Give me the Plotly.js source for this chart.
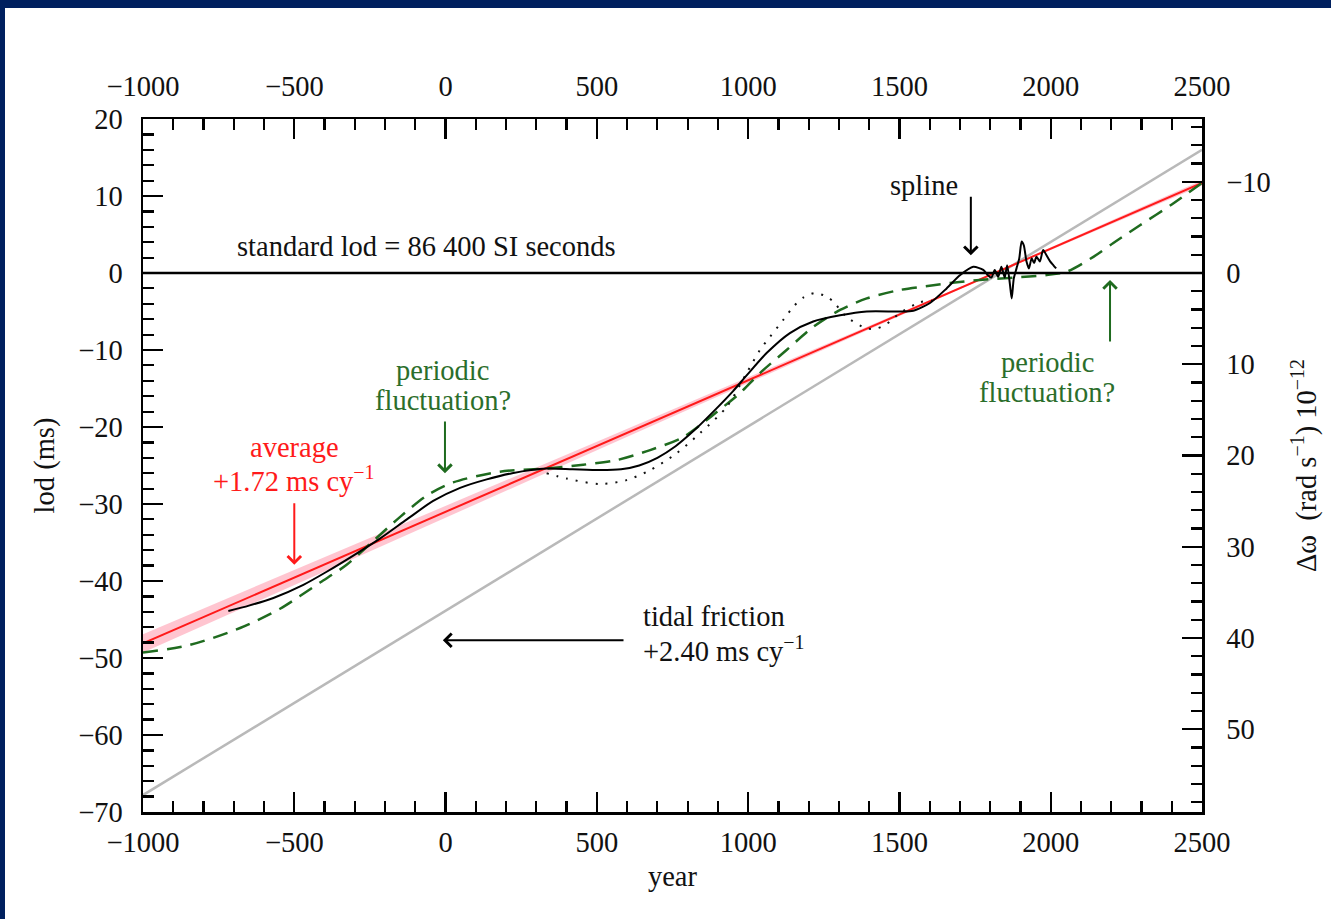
<!DOCTYPE html>
<html><head><meta charset="utf-8">
<script src="https://cdn.plot.ly/plotly-3.0.1.min.js"></script>
<style>
html,body{margin:0;padding:0;background:#00205f;overflow:hidden;width:1331px;height:919px;}
#chart{position:absolute;left:5px;top:8px;width:1326px;height:911px;background:#fff;}
</style>
</head><body><div id="chart"></div>
<script>
// ---- data ----
const splineYears = [-718,-650,-569,-470,-393,-305,-217,-128,-41,48,136,220,334,420,510,580,640,700,760,820,885,951,995,1061,1138,1215,1304,1392,1502,1546,1601,1656,1700,1744,1777,1793,1804,1815,1826,1837,1848,1856,1865,1871,1878,1887,1896,1904,1911,1920,1928,1937,1945,1953,1964,1975,1986,1998,2009,2018];
const splineLod   = [-43.9,-43.2,-42.2,-40.5,-38.8,-36.7,-34.5,-32.0,-29.6,-27.9,-26.8,-26.0,-25.4,-25.5,-25.6,-25.5,-25.0,-24.0,-22.5,-20.5,-18.0,-15.3,-13.3,-10.4,-7.8,-6.3,-5.5,-5.0,-5.0,-4.9,-3.9,-2.0,-0.3,0.8,0.4,-0.3,-0.6,0.4,-0.5,0.8,-0.6,1.0,-1.4,-3.3,-0.7,0.6,1.9,4.1,3.6,1.5,0.6,1.9,1.3,2.1,1.5,3.0,2.3,1.5,1.0,0.6];

const dottedYears = [334,400,510,598,676,764,841,929,995,1039,1072,1116,1149,1182,1221,1260,1281,1325,1392,1425,1458,1502,1568,1610];
const dottedLod   = [-26.0,-26.7,-27.4,-26.9,-25.6,-23.4,-20.8,-17.4,-13.0,-10.0,-8.3,-6.1,-4.4,-3.2,-2.6,-3.1,-3.7,-5.7,-7.2,-7.2,-6.6,-5.2,-3.8,-3.6];

const periodicYears = [-1000,-845,-679,-547,-415,-327,-239,-151,-62,25,180,334,455,565,676,786,885,973,1039,1127,1215,1304,1392,1502,1612,1667,1766,1876,1987,2053,2141,2207,2295,2400,2500];
const periodicLod   = [-49.3,-48.3,-46.1,-43.6,-40.2,-37.9,-34.8,-31.7,-28.9,-27.2,-25.8,-25.4,-24.9,-24.3,-23.0,-21.3,-18.4,-15.6,-13.0,-10.0,-7.0,-4.8,-3.3,-2.2,-1.6,-1.3,-0.9,-0.6,-0.26,0.17,2.1,3.9,6.2,8.9,11.7];

const averageYears = [-1000, 2500];
const averageLod   = [-48.1, 11.7];
const bandYears    = [-1000, 500, 1800, 2500];
const bandHalfWidth= [1.2, 0.55, 0.1, 0.35];

const tidalYears = [-1000, 2500];
const tidalLod   = [-67.8, 16.0];

const standardYears = [-1000, 2500];
const standardLod   = [0, 0];

const xTicks = [-1000,-500,0,500,1000,1500,2000,2500];
const yTicks = [-70,-60,-50,-40,-30,-20,-10,0,10,20];
const omegaTicks = [-10,0,10,20,30,40,50];
const msToOmega = 0.8439; // 10^-12 rad/s per ms of lod

// ---- helpers ----
function lerp(xs, ys, x){
  for(let i=0;i<xs.length-1;i++){
    if(x>=xs[i] && x<=xs[i+1]){
      const t=(x-xs[i])/(xs[i+1]-xs[i]); return ys[i]+t*(ys[i+1]-ys[i]);
    }
  }
  return ys[ys.length-1];
}
const bandUpper = bandYears.map((y,i)=>lerp(averageYears,averageLod,y)+bandHalfWidth[i]);
const bandLower = bandYears.map((y,i)=>lerp(averageYears,averageLod,y)-bandHalfWidth[i]);
const fmt = v => v<0 ? '\u2212'+(-v) : String(v);

const FONT = 'Liberation Serif, Times New Roman, serif';
const FS = 28.5;
const GREEN = '#1f6b1f';
const GREENTXT = '#2b6e2b';
const RED = '#ff1a1a';

const traces = [
  {x:bandYears, y:bandLower, mode:'lines', line:{width:0, color:'rgba(0,0,0,0)'}, hoverinfo:'skip', showlegend:false},
  {x:bandYears, y:bandUpper, mode:'lines', fill:'tonexty', fillcolor:'rgba(255,150,170,0.55)', line:{width:0, color:'rgba(0,0,0,0)'}, hoverinfo:'skip', showlegend:false},
  {x:tidalYears, y:tidalLod, mode:'lines', line:{color:'#b9b9b9', width:2.5}, showlegend:false},
  {x:averageYears, y:averageLod, mode:'lines', line:{color:RED, width:2}, showlegend:false},
  {x:periodicYears, y:periodicLod, mode:'lines', line:{color:GREEN, width:2.5, dash:'15px,9px', shape:'spline', smoothing:0.8}, showlegend:false},
  {x:dottedYears, y:dottedLod, mode:'lines', line:{color:'#111', width:2, dash:'2px,8px', shape:'spline', smoothing:0.8}, showlegend:false},
  {x:splineYears, y:splineLod, mode:'lines', line:{color:'#000', width:2, shape:'spline', smoothing:0.7}, showlegend:false},
  {x:standardYears, y:standardLod.map(v=>-v*msToOmega), xaxis:'x2', yaxis:'y2', mode:'lines', line:{color:'#000', width:2.5}, showlegend:false}
];

const tickFont = {family:FONT, size:FS, color:'#111'};
const axisCommon = {
  showline:true, linecolor:'#000', linewidth:2.5, ticks:'inside', tickcolor:'#000',
  ticklen:20, tickwidth:2.2, showgrid:false, zeroline:false, tickfont:tickFont
};
function minorTicks(dt){ return {ticks:'inside', dtick:dt, ticklen:11, tickwidth:2.2, tickcolor:'#000', showgrid:false}; }

function arrow(x, y, ax, ay, color){
  return {x:x, y:y, ax:ax, ay:ay, xref:'x', yref:'y', axref:'x', ayref:'y', text:'', showarrow:true,
    arrowhead:4, arrowsize:1.3, arrowwidth:2, arrowcolor:color, standoff:0, startstandoff:0};
}
function label(x, y, text, color, xanchor){
  return {x:x, y:y, xref:'x', yref:'y', text:text, showarrow:false, xanchor:xanchor||'center', yanchor:'middle',
    font:{family:FONT, size:FS, color:color}};
}

const layout = {
  width:1326, height:911,
  margin:{l:138, r:129, t:111, b:107},
  paper_bgcolor:'#fff', plot_bgcolor:'#fff',
  showlegend:false,
  xaxis: Object.assign({}, axisCommon, {range:[-1000,2500], tickvals:xTicks, ticktext:xTicks.map(fmt),
    ticklabelstandoff:3, minor:minorTicks(100),
    title:{text:'year', font:{family:FONT, size:FS, color:'#111'}, standoff:10}}),
  xaxis2: Object.assign({}, axisCommon, {range:[-1000,2500], overlaying:'x', side:'top', anchor:'y', tickvals:xTicks, ticktext:xTicks.map(fmt),
    ticklabelstandoff:9, minor:minorTicks(100)}),
  yaxis: Object.assign({}, axisCommon, {range:[-70,20], tickvals:yTicks, ticktext:yTicks.map(fmt),
    ticklabelstandoff:12, minor:minorTicks(2),
    title:{text:'lod (ms)', font:{family:FONT, size:FS, color:'#111'}, standoff:15}}),
  yaxis2: Object.assign({}, axisCommon, {range:[70*msToOmega, -20*msToOmega], overlaying:'y', side:'right', anchor:'x',
    tickvals:omegaTicks, ticktext:omegaTicks.map(fmt), ticklabelstandoff:16, minor:minorTicks(2),
    title:{text:'\u0394\u03c9  (rad s<sup>\u22121</sup>) 10<sup>\u221212</sup>', font:{family:FONT, size:FS, color:'#111'}, standoff:27}}),
  annotations:[
    label(-696, 3.5, 'standard lod = 86 400 SI seconds', '#111', 'left'),
    label(1581, 11.3, 'spline', '#111'),
    arrow(1736, 2.3, 1736, 10.1, '#000'),
    label(-10, -12.7, 'periodic', GREENTXT),
    label(-10, -16.6, 'fluctuation?', GREENTXT),
    arrow(-2, -26.0, -2, -19.1, GREEN),
    label(-500, -22.6, 'average', RED),
    label(-500, -26.8, '+1.72 ms cy<sup>\u22121</sup>', RED),
    arrow(-500, -37.9, -500, -29.7, RED),
    label(646, -44.6, 'tidal friction', '#111', 'left'),
    label(646, -48.8, '+2.40 ms cy<sup>\u22121</sup>', '#111', 'left'),
    arrow(-9, -47.7, 593, -47.7, '#000'),
    label(1988, -11.6, 'periodic', GREENTXT),
    label(1988, -15.5, 'fluctuation?', GREENTXT),
    arrow(2196, -0.9, 2196, -9.1, GREEN)
  ]
};

Plotly.newPlot('chart', traces, layout, {displayModeBar:false, staticPlot:true});
</script>
</body></html>
